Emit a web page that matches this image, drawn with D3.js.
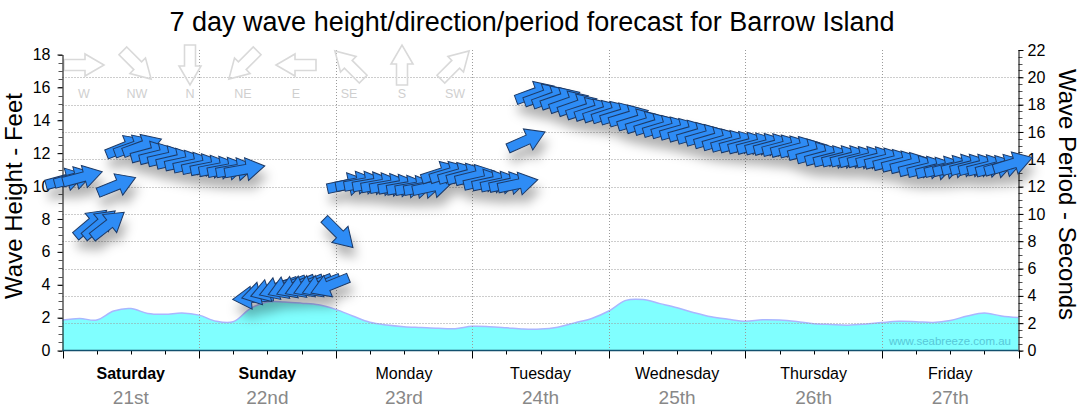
<!DOCTYPE html>
<html><head><meta charset="utf-8">
<script src="https://cdn.jsdelivr.net/npm/d3@7"></script>
<style>
html,body{margin:0;padding:0;background:#fff;}
svg{display:block;}
</style></head>
<body>
<svg id="chart" width="1080" height="414"></svg>
<script>
// ---------- data ----------
const titleText = "7 day wave height/direction/period forecast for Barrow Island";
const dayNames = ["Saturday","Sunday","Monday","Tuesday","Wednesday","Thursday","Friday"];
const dayDates = ["21st","22nd","23rd","24th","25th","26th","27th"];
const weekendDays = ["Saturday","Sunday"];

// wave height (feet), 3-hourly from Saturday 00:00
const waveHours = [0,3,6,9,12,15,18,21,24,27,30,33,36,39,42,45,48,51,54,57,60,63,66,69,72,75,78,81,84,87,90,93,96,99,102,105,108,111,114,117,120,123,126,129,132,135,138,141,144,147,150,153,156,159,162,165,168];
const waveHeights = [1.85,1.95,1.85,2.4,2.55,2.25,2.2,2.28,2.15,1.78,1.75,2.55,2.95,2.95,2.88,2.78,2.5,2.1,1.72,1.55,1.45,1.4,1.35,1.33,1.47,1.45,1.38,1.3,1.3,1.42,1.68,1.95,2.4,3.05,3.1,2.85,2.6,2.3,2.05,1.9,1.78,1.87,1.85,1.76,1.63,1.58,1.54,1.6,1.7,1.78,1.75,1.7,1.82,2.1,2.28,2.1,2.0];

// swell: hour, period (s), direction it comes from (deg)
const swellHours = [
 0.5,2,3.5,5,6.5,8,9.5,11,12.5,14,15.5,17,18.5,20,21.5,23,
 24.5,26,27.5,29,30.5,32,33.5,35,36.5,38,39.5,41,42.5,44,45.5,47,
 48.5,50,51.5,53,54.5,56,57.5,59,60.5,62,63.5,65,66.5,68,69.5,71,
 72.5,74,75.5,77,78.5,80,81.5,83,84.5,86,87.5,89,90.5,92,93.5,95,
 96.5,98,99.5,101,102.5,104,105.5,107,108.5,110,111.5,113,114.5,116,117.5,119,
 120.5,122,123.5,125,126.5,128,129.5,131,132.5,134,135.5,137,138.5,140,141.5,143,
 144.5,146,147.5,149,150.5,152,153.5,155,156.5,158,159.5,161,162.5,164,165.5,167];
const swellPeriods = [
 12.5,12.6,12.7,9.3,9.25,9.2,12.1,14.9,14.93,14.97,14.46,14.31,14.13,13.95,13.8,13.65,
 13.54,13.43,13.36,13.29,13.25,13.25,3.87,4.21,4.43,4.58,4.65,4.69,4.72,4.76,4.76,4.77,
 8.6,12.15,12.26,12.26,12.22,12.15,12.1,12.05,11.98,11.95,11.95,12.0,12.99,12.99,12.92,12.85,
 12.77,12.41,12.34,12.26,12.23,12.19,15.39,18.85,18.67,18.52,18.41,18.16,17.94,17.68,17.57,17.46,
 17.39,17.28,17.13,16.84,16.65,16.51,16.36,16.25,16.14,16.0,15.85,15.7,15.52,15.37,15.26,15.19,
 15.12,15.08,15.04,15.01,14.93,14.86,14.82,14.64,14.39,14.24,14.13,14.13,14.13,14.09,14.09,14.06,
 13.98,13.87,13.76,13.65,13.43,13.36,13.29,13.36,13.43,13.51,13.51,13.51,13.47,13.43,13.51,13.69];
const swellDirs = [
 255,255,255,230,230,232,248,248,250,250,255,256,257,257,258,258,
 258,259,259,259,260,260,85,76,72,70,68,68,68,68,68,68,
 315,258,259,260,260,260,260,260,260,260,260,258,252,253,254,255,
 256,257,258,258,258,258,246,250,250,250,251,251,251,252,252,252,
 252,253,253,253,253,253,253,254,254,254,254,254,254,254,254,255,
 255,255,255,255,255,255,255,255,255,255,256,256,256,256,256,256,
 256,256,256,256,256,256,256,256,256,256,256,256,256,255,254,253];

const heightTicks = [0,2,4,6,8,10,12,14,16,18];
const periodTicks = [0,2,4,6,8,10,12,14,16,18,20,22];
const legendNames = ["W","NW","N","NE","E","SE","S","SW"];
const legendDirs = [270,315,0,45,90,135,180,225];

// ---------- drawing ----------
const svg = d3.select("#chart");
const sans = "'Liberation Sans', Arial, sans-serif";

const x = d3.scaleLinear().domain([0,168]).range([62.5,1018.5]);
const yH = d3.scaleLinear().domain([0,18]).range([350.5,54.5]);
const yP = d3.scaleLinear().domain([0,22]).range([350.5,50]);

const defs = svg.append("defs");
const f = defs.append("filter").attr("id","shadow")
  .attr("x","-20%").attr("y","-30%").attr("width","140%").attr("height","180%");
f.append("feDropShadow").attr("dx",3).attr("dy",10).attr("stdDeviation",5.5)
  .attr("flood-color","#000").attr("flood-opacity",0.3);

// area
const curve = d3.curveCatmullRom.alpha(0.5);
const area = d3.area().x((d,i)=>x(waveHours[i])).y0(yH(0)).y1(d=>yH(d)).curve(curve);
const line = d3.line().x((d,i)=>x(waveHours[i])).y(d=>yH(d)).curve(curve);
svg.append("path").datum(waveHeights).attr("d",area).attr("fill","#80ffff");
svg.append("path").datum(waveHeights).attr("d",line).attr("fill","none")
  .attr("stroke","#aab6ff").attr("stroke-width",1.5);

// watermark
svg.append("text").attr("x",1011).attr("y",345).attr("text-anchor","end")
  .attr("font-family",sans).attr("font-size",11.5).attr("fill","#58c8d8")
  .text("www.seabreeze.com.au");

// grid
const grid = svg.append("g").attr("stroke","#9a9a9a").attr("stroke-width",1).attr("stroke-dasharray","1,2");
periodTicks.filter(v=>v>0 && v<22).forEach(v=>{
  grid.append("line").attr("x1",x(0)).attr("x2",x(168)).attr("y1",Math.round(yP(v))+0.5).attr("y2",Math.round(yP(v))+0.5);
});
[24,48,72,96,120,144].forEach(h=>{
  grid.append("line").attr("x1",Math.round(x(h))+0.5).attr("x2",Math.round(x(h))+0.5).attr("y1",yP(22)).attr("y2",yH(0));
});

// arrow shapes
const arrowPath = "M-20,-4.8L2,-4.8L2,-11.5L20.5,0L2,11.5L2,4.8L-20,4.8Z";
const legendPath = "M-20,-5.5L1,-5.5L1,-11L20,0L1,11L1,5.5L-20,5.5Z";

// legend
const lx = d3.scalePoint().domain(legendNames).range([84,455]);
const lg = svg.append("g");
legendNames.forEach((n,i)=>{
  lg.append("path").attr("d",legendPath)
    .attr("transform",`translate(${lx(n)},65) rotate(${legendDirs[i]+90})`)
    .attr("fill","none").attr("stroke","#d9d9d9").attr("stroke-width",1.6);
  lg.append("text").attr("x",lx(n)).attr("y",98).attr("text-anchor","middle")
    .attr("font-family",sans).attr("font-size",12.5).attr("fill","#cfcfcf").text(n);
});

// left axis
const leftAxis = svg.append("g").attr("transform","translate(62.5,0)");
leftAxis.selectAll("line.minor").data(yH.ticks(36)).enter().append("line")
  .attr("x1",-4).attr("x2",0).attr("y1",d=>Math.round(yH(d))+0.5).attr("y2",d=>Math.round(yH(d))+0.5)
  .attr("stroke","#555");
leftAxis.call(d3.axisLeft(yH).tickValues(heightTicks).tickSize(5).tickPadding(7).tickSizeOuter(0));
leftAxis.selectAll("text").attr("font-family",sans).attr("font-size",16).attr("fill","#000");

// right axis
const rightAxis = svg.append("g").attr("transform","translate(1018.5,0)");
rightAxis.selectAll("line.minor").data(yP.ticks(44)).enter().append("line")
  .attr("x1",0).attr("x2",4).attr("y1",d=>Math.round(yP(d))+0.5).attr("y2",d=>Math.round(yP(d))+0.5)
  .attr("stroke","#555");
rightAxis.call(d3.axisRight(yP).tickValues(periodTicks).tickSize(5).tickPadding(4).tickSizeOuter(0));
rightAxis.selectAll("text").attr("font-family",sans).attr("font-size",16).attr("fill","#000");

// bottom axis
const hourTicks = d3.range(0,169,6);
const bx = svg.append("g");
bx.selectAll("line.t").data(hourTicks).enter().append("line")
  .attr("x1",d=>Math.round(x(d))+0.5).attr("x2",d=>Math.round(x(d))+0.5)
  .attr("y1",350.5).attr("y2",d=>d%24===0?358.5:354.5).attr("stroke","#000");
bx.append("line").attr("x1",x(0)).attr("x2",x(168)).attr("y1",350.5).attr("y2",350.5)
  .attr("stroke","#12506e").attr("stroke-width",1.5);

// day labels
dayNames.forEach((d,i)=>{
  const cx = x(12+24*i);
  svg.append("text").attr("x",cx).attr("y",379).attr("text-anchor","middle")
    .attr("font-family",sans).attr("font-size",16)
    .attr("font-weight",weekendDays.includes(d)?"bold":"normal").attr("fill","#000").text(d);
  svg.append("text").attr("x",cx).attr("y",404).attr("text-anchor","middle")
    .attr("font-family",sans).attr("font-size",19).attr("fill","#888").text(dayDates[i]);
});

// titles
svg.append("text").attr("x",532).attr("y",31).attr("text-anchor","middle")
  .attr("font-family",sans).attr("font-size",27).attr("fill","#000").text(titleText);
svg.append("text").attr("transform","translate(21.5,196) rotate(-90)").attr("text-anchor","middle")
  .attr("font-family",sans).attr("font-size",24).attr("fill","#000").text("Wave Height - Feet");
svg.append("text").attr("transform","translate(1059,194.5) rotate(90)").attr("text-anchor","middle")
  .attr("font-family",sans).attr("font-size",24).attr("fill","#000").text("Wave Period - Seconds");

// swell arrows
const ag = svg.append("g").attr("filter","url(#shadow)");
swellHours.forEach((h,i)=>{
  ag.append("path").attr("d",arrowPath)
    .attr("transform",`translate(${x(h)},${yP(swellPeriods[i])}) rotate(${swellDirs[i]+90})`)
    .attr("fill","#2d8cf5").attr("stroke","#1e3a66").attr("stroke-width",1).attr("stroke-linejoin","miter");
});
</script>
</body></html>
